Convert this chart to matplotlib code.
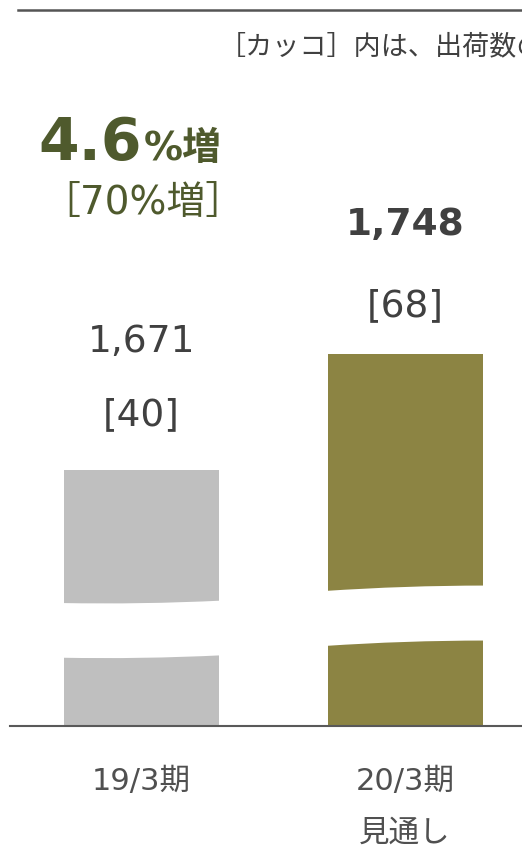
import matplotlib.pyplot as plt
from matplotlib.path import Path
from matplotlib.patches import PathPatch
from matplotlib.lines import Line2D

plt.rcParams['font.family'] = ['DejaVu Sans', 'Noto Sans CJK JP']

# データ
periods = ['19/3期', '20/3期\n見通し']
sales = [1671, 1748]
shipments = ['[40]', '[68]']
bar_colors = ['#bfbfbf', '#8c8443']
growth_main = '4.6'
growth_sub = '［70%増］'
note = '［カッコ］内は、出荷数の'

# 波線で省略する区間 (下端, 上端)
breaks = [(1546.4, 1582.7), (1554.2, 1590.7)]
# 波の形 (中央の制御点, 右端) のずれ
wave = [(-1.0, 1.6), (3.6, 3.6)]

W, H = 522, 849
fig = plt.figure(figsize=(W / 100, H / 100), dpi=100)
ax = fig.add_axes([0, 123 / H, 1, 726 / H])

x = list(range(len(sales)))
width = 155 / 263.5
ax.bar(x, sales, width=width, color=bar_colors, zorder=2)
ax.set_xlim(-141.5 / 263.5, (W - 141.5) / 263.5)
ax.set_ylim(1501.07, 1983)
ax.axis('off')

# 省略の白い帯
for i, (lo, hi) in enumerate(breaks):
    xl, xr = i - width / 2 - 0.01, i + width / 2 + 0.01
    xc = i
    dc, dr = wave[i]
    verts = [(xl, lo), (xc, lo + dc), (xr, lo + dr),
             (xr, hi + dr), (xc, hi + dc), (xl, hi), (xl, lo)]
    codes = [Path.MOVETO, Path.CURVE3, Path.CURVE3,
             Path.LINETO, Path.CURVE3, Path.CURVE3, Path.CLOSEPOLY]
    ax.add_patch(PathPatch(Path(verts, codes), facecolor='white',
                           edgecolor='none', zorder=3))

# 値ラベル
label_offsets = [(118, 45), (119, 38)]
for i, v in enumerate(sales):
    off_val, off_ship = label_offsets[i]
    ax.annotate(f'{v:,}', xy=(i, v), xytext=(0, off_val * 0.72),
                textcoords='offset points', ha='center', va='baseline',
                fontsize=27, color='#404040',
                fontweight='bold' if i == 1 else 'normal')
    ax.annotate(shipments[i], xy=(i, v), xytext=(0, off_ship * 0.72),
                textcoords='offset points', ha='center', va='baseline',
                fontsize=27, color='#404040')

# 横軸の線
ax.axhline(1501.07, xmin=10 / W, xmax=1, color='#595959', lw=1.5, zorder=4,
           clip_on=False)

# カテゴリ名
for i, p in enumerate(periods):
    lines = p.split('\n')
    for j, t in enumerate(lines):
        fig.text((141.5 + 263.5 * i) / W, 1 - (790 + 52 * j) / H, t,
                 ha='center', va='baseline', fontsize=22, color='#505050')

# 上の線と注記
fig.add_artist(Line2D([18 / W, 1], [1 - 10 / H, 1 - 10 / H],
                      color='#555555', lw=1.8))
fig.text(219 / W, 1 - 47.5 / H, note, ha='left', va='center',
         fontsize=19.5, color='#404040')

# 伸び率
olive = '#4f5a2d'
fig.text(38 / W, 1 - 160 / H, growth_main, ha='left', va='baseline',
         fontsize=42, fontweight='bold', color=olive)
fig.text(144 / W, 1 - 160 / H, '%増', ha='left', va='baseline',
         fontsize=28, fontweight='bold', color=olive)
fig.text(143 / W, 1 - 214 / H, growth_sub, ha='center', va='baseline',
         fontsize=28, color=olive)

fig.savefig('out.png', dpi=100)
